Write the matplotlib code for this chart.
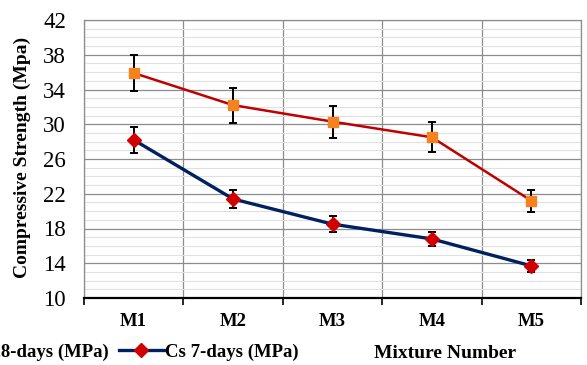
import matplotlib
matplotlib.use("Agg")
import matplotlib.pyplot as plt
from matplotlib.ticker import MultipleLocator, FixedLocator
from matplotlib.lines import Line2D

categories = ["M1", "M2", "M3", "M4", "M5"]
cs28 = [35.9, 32.2, 30.3, 28.5, 21.2]
cs28_err = [2.1, 2.0, 1.85, 1.75, 1.25]
cs7 = [28.2, 21.4, 18.5, 16.8, 13.7]
cs7_err = [1.5, 1.05, 0.95, 0.85, 0.65]
series_names = ["Cs 28-days (MPa)", "Cs 7-days (MPa)"]
yticks = [10, 14, 18, 22, 26, 30, 34, 38, 42]

plt.rcParams['font.family'] = ['Liberation Serif', 'DejaVu Serif']

fig = plt.figure(figsize=(5.87, 3.65), dpi=100)
ax = fig.add_axes([84/587, 1-298/365, 497/587, 278/365])

x = list(range(1, len(categories)+1))
st28 = dict(color='#C00000', lw=1.8, marker='s', ms=7, mfc='#F5821F', mec='#F5821F')
st7 = dict(color='#002060', lw=2.4, marker='D', ms=7.5, mfc='#D00000', mec='#D00000')
ax.errorbar(x, cs28, yerr=cs28_err, ecolor='black', elinewidth=1.4,
            capsize=3, capthick=1.4, zorder=3, **st28)
ax.errorbar(x, cs7, yerr=cs7_err, ecolor='black', elinewidth=1.4,
            capsize=3, capthick=1.4, zorder=3, **st7)

ax.set_xlim(0.5, 5.5)
ax.set_ylim(10, 42)
ax.yaxis.set_major_locator(FixedLocator(yticks))
ax.yaxis.set_minor_locator(MultipleLocator(1))
ax.xaxis.set_major_locator(FixedLocator(x))
ax.xaxis.set_minor_locator(FixedLocator([0.5 + i for i in range(6)]))
ax.set_xticklabels(categories, fontweight='bold', fontsize=13.5)
ax.tick_params(axis='x', which='major', length=0, pad=11)
ax.tick_params(axis='x', which='minor', length=5, width=1.2, color='black')
ax.tick_params(axis='y', which='both', length=0, pad=13, labelsize=16.5)

ax.yaxis.grid(True, which='minor', color='#E0E0E0', lw=0.8, zorder=0)
ax.yaxis.grid(True, which='major', color='#8C8C8C', lw=0.9, zorder=0)
ax.xaxis.grid(True, which='minor', color='#8C8C8C', lw=0.9, zorder=0)
ax.xaxis.grid(False, which='major')
ax.set_axisbelow(True)

for s in ['top', 'right', 'left']:
    ax.spines[s].set_color('#8C8C8C')
    ax.spines[s].set_linewidth(0.9)
ax.spines['bottom'].set_color('black')
ax.spines['bottom'].set_linewidth(1.6)

fig.text(22/587, 1-157/365, "Compressive Strength (Mpa)", rotation=90, ha='center', va='center',
         fontweight='bold', fontsize=14)
fig.text(445/587, 1-353/365, "Mixture Number", ha='center', va='center',
         fontweight='bold', fontsize=14)

h28 = Line2D([], [], **st28)
h7 = Line2D([], [], **st7)
leg = fig.legend(handles=[h28, h7], labels=series_names, loc='center right',
                 bbox_to_anchor=(299/587, 1-352/365), ncol=2, frameon=False,
                 prop={'weight': 'bold', 'size': 13.5}, handlelength=2.4,
                 handletextpad=0.1, columnspacing=0.5, borderaxespad=0, borderpad=0)

fig.savefig("out.png", dpi=100)
